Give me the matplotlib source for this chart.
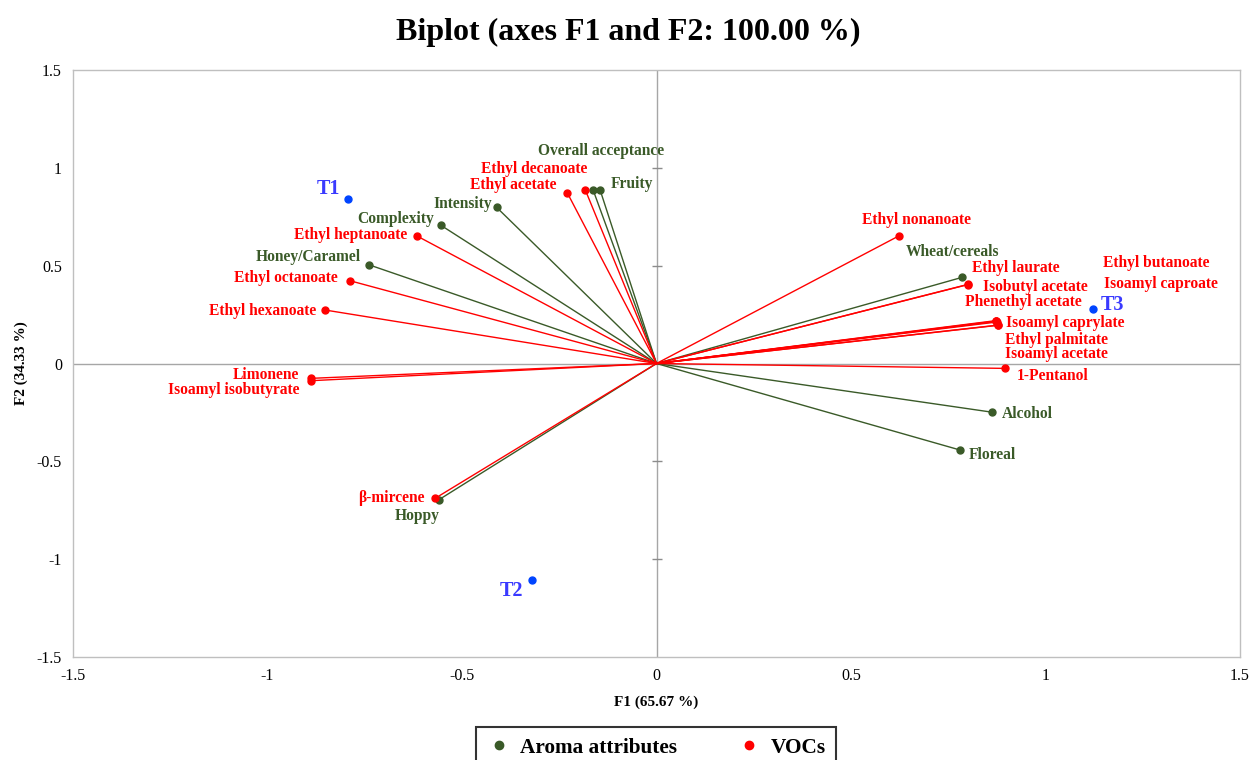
import matplotlib
matplotlib.use("Agg")
import matplotlib.pyplot as plt
from matplotlib.lines import Line2D

plt.rcParams['font.family'] = ['Liberation Serif', 'DejaVu Serif']

# ---- data ----
obs_names = ["T1", "T2", "T3"]
obs_x = [-0.792, -0.321, 1.121]
obs_y = [0.840, -1.106, 0.279]

aroma_names = ["Overall acceptance", "Fruity", "Intensity", "Complexity", "Honey/Caramel",
               "Wheat/cereals", "Alcohol", "Floreal", "Hoppy"]
aroma_x = [-0.163, -0.145, -0.411, -0.554, -0.740, 0.785, 0.863, 0.780, -0.560]
aroma_y = [0.887, 0.887, 0.798, 0.706, 0.505, 0.440, -0.249, -0.442, -0.697]

voc_names = ["Ethyl decanoate", "Ethyl acetate", "Ethyl heptanoate", "Ethyl octanoate",
             "Ethyl hexanoate", "Limonene", "Isoamyl isobutyrate", "β-mircene",
             "Ethyl nonanoate", "Ethyl laurate", "Isobutyl acetate", "Ethyl butanoate",
             "Isoamyl caproate", "Phenethyl acetate", "Isoamyl caprylate", "Ethyl palmitate",
             "Isoamyl acetate", "1-Pentanol"]
voc_x = [-0.183, -0.229, -0.616, -0.788, -0.851, -0.889, -0.889, -0.569,
         0.623, 0.802, 0.800, 0.874, 0.875, 0.872, 0.873, 0.877, 0.877, 0.897]
voc_y = [0.887, 0.871, 0.652, 0.423, 0.273, -0.076, -0.088, -0.689,
         0.652, 0.405, 0.403, 0.215, 0.212, 0.219, 0.217, 0.195, 0.196, -0.025]

ticks = [-1.5, -1, -0.5, 0, 0.5, 1, 1.5]
tick_labels = ["-1.5", "-1", "-0.5", "0", "0.5", "1", "1.5"]

# ---- label placement (pixel offsets, alignment) ----
aroma_lab = {
    "Overall acceptance": (8, 39, "center"), "Fruity": (11, 6, "left"),
    "Intensity": (-5, 3, "right"), "Complexity": (-7, 6, "right"),
    "Honey/Caramel": (-8, 8, "right"), "Wheat/cereals": (-56, 25, "left"),
    "Alcohol": (10, -2, "left"), "Floreal": (9, -5, "left"), "Hoppy": (1, -16, "right"),
}
voc_lab = {
    "Ethyl decanoate": (2, 21, "right"), "Ethyl acetate": (-11, 8, "right"),
    "Ethyl heptanoate": (-10, 1, "right"), "Ethyl octanoate": (-12, 3, "right"),
    "Ethyl hexanoate": (-9, -1, "right"), "Limonene": (-12, 3, "right"),
    "Isoamyl isobutyrate": (-11, -9, "right"), "β-mircene": (-11, 0, "right"),
    "Ethyl nonanoate": (18, 16, "center"), "Ethyl laurate": (4, 16, "left"),
    "Isobutyl acetate": (15, -2, "left"), "Ethyl butanoate": (107, 58, "left"),
    "Isoamyl caproate": (107, 38, "left"), "Phenethyl acetate": (-31, 19, "left"),
    "Isoamyl caprylate": (10, -2, "left"), "Ethyl palmitate": (7, -15, "left"),
    "Isoamyl acetate": (7, -29, "left"), "1-Pentanol": (11, -8, "left"),
}
obs_lab = {"T1": (-8, 10, "right"), "T2": (-8, -11, "right"), "T3": (8, 4, "left")}

GREEN = "#3a5a28"
RED = "#ff0000"
BLUE_T = "#3a3aff"
BLUE_D = "#0044ff"

fig = plt.figure(figsize=(12.52, 7.6), dpi=100)
ax = fig.add_axes([73/1252, 1-657/760, (1240-73)/1252, (657-70)/760])
ax.set_xlim(-1.5, 1.5)
ax.set_ylim(-1.5, 1.5)

ax.axhline(0, color="#a6a6a6", lw=1, zorder=1)
ax.axvline(0, color="#a6a6a6", lw=1, zorder=1)
for t in ticks:
    if t not in (0, -1.5, 1.5):
        ax.plot([0], [t], marker="_", ms=7, color="#8c8c8c", mew=1, zorder=1)

for sp in ax.spines.values():
    sp.set_color("#bfbfbf")
    sp.set_linewidth(1)

ax.set_xticks(ticks)
ax.set_xticklabels(tick_labels)
ax.set_yticks(ticks)
ax.set_yticklabels(tick_labels)
ax.tick_params(length=0, labelsize=11.5, pad=8)

def draw(names, xs, ys, color, labs):
    for n, x, y in zip(names, xs, ys):
        ax.plot([0, x], [0, y], color=color, lw=1, zorder=2)
        ax.plot([x], [y], "o", color=color, ms=5, zorder=3)
        dx, dy, ha = labs[n]
        ax.annotate(n, (x, y), xytext=(dx, dy), textcoords="offset pixels",
                    ha=ha, va="center", color=color, fontsize=11.2, fontweight="bold",
                    family=['Liberation Serif', 'DejaVu Serif'])

draw(aroma_names, aroma_x, aroma_y, GREEN, aroma_lab)
draw(voc_names, voc_x, voc_y, RED, voc_lab)

for n, x, y in zip(obs_names, obs_x, obs_y):
    ax.plot([x], [y], "o", color=BLUE_D, ms=5, zorder=3)
    dx, dy, ha = obs_lab[n]
    ax.annotate(n, (x, y), xytext=(dx, dy), textcoords="offset pixels",
                ha=ha, va="center", color=BLUE_T, fontsize=14.5, fontweight="bold")

ax.set_xlabel("F1 (65.67 %)", fontsize=11, fontweight="bold", labelpad=8)
ax.set_ylabel("F2 (34.33 %)", fontsize=11, fontweight="bold", labelpad=6)

fig.text(628/1252, 1-32/760, "Biplot (axes F1 and F2: 100.00 %)", ha="center", va="center",
         fontsize=23, fontweight="bold")

handles = [Line2D([], [], ls="none", marker="o", color=GREEN, ms=6, label="Aroma attributes"),
           Line2D([], [], ls="none", marker="o", color=RED, ms=6, label="VOCs")]
leg = fig.legend(handles=handles, loc="upper center", bbox_to_anchor=(656/1252, 1-727/760),
                 ncol=2, frameon=True, fancybox=False, edgecolor="black",
                 prop={"weight": "bold", "size": 15.3}, handletextpad=0.4,
                 columnspacing=2.8, borderpad=0.5, handlelength=1.2, borderaxespad=0)
leg.get_frame().set_linewidth(1.5)

fig.savefig("out.png", dpi=100)
